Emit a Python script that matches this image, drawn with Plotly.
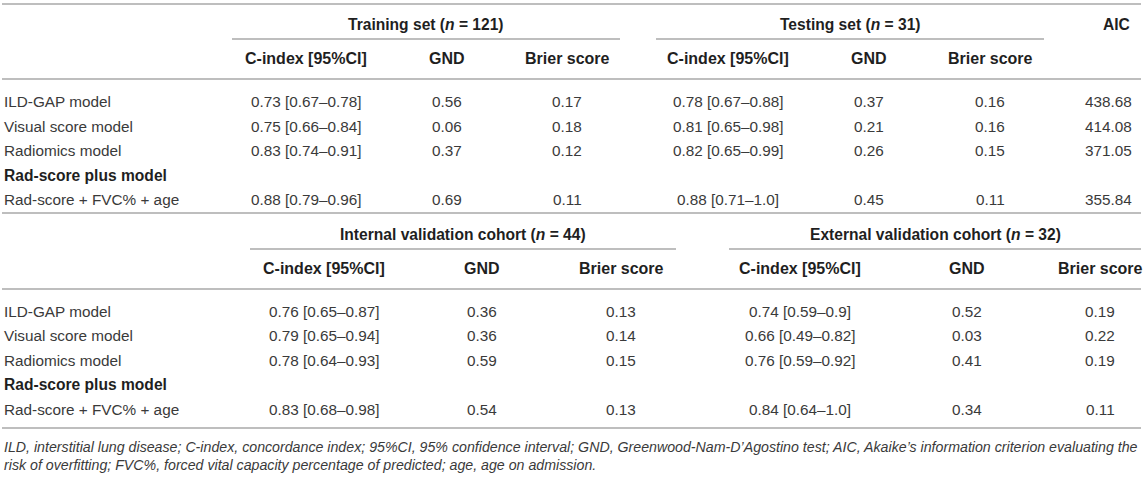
import plotly.graph_objects as go

# row labels
model_names = ["ILD-GAP model", "Visual score model", "Radiomics model"]
plus_group = "Rad-score plus model"
plus_model = "Rad-score + FVC% + age"

# training set (n = 121)
train_cindex = ["0.73 [0.67–0.78]", "0.75 [0.66–0.84]", "0.83 [0.74–0.91]", "0.88 [0.79–0.96]"]
train_gnd = ["0.56", "0.06", "0.37", "0.69"]
train_brier = ["0.17", "0.18", "0.12", "0.11"]

# testing set (n = 31)
test_cindex = ["0.78 [0.67–0.88]", "0.81 [0.65–0.98]", "0.82 [0.65–0.99]", "0.88 [0.71–1.0]"]
test_gnd = ["0.37", "0.21", "0.26", "0.45"]
test_brier = ["0.16", "0.16", "0.15", "0.11"]

aic = ["438.68", "414.08", "371.05", "355.84"]

# internal validation cohort (n = 44)
int_cindex = ["0.76 [0.65–0.87]", "0.79 [0.65–0.94]", "0.78 [0.64–0.93]", "0.83 [0.68–0.98]"]
int_gnd = ["0.36", "0.36", "0.59", "0.54"]
int_brier = ["0.13", "0.14", "0.15", "0.13"]

# external validation cohort (n = 32)
ext_cindex = ["0.74 [0.59–0.9]", "0.66 [0.49–0.82]", "0.76 [0.59–0.92]", "0.84 [0.64–1.0]"]
ext_gnd = ["0.52", "0.03", "0.41", "0.34"]
ext_brier = ["0.19", "0.22", "0.19", "0.11"]

col_heads = ["C-index [95%CI]", "GND", "Brier score"]
footnote = [
    "ILD, interstitial lung disease; C-index, concordance index; 95%CI, 95% confidence interval; "
    "GND, Greenwood-Nam-D’Agostino test; AIC, Akaike’s information criterion evaluating the",
    "risk of overfitting; FVC%, forced vital capacity percentage of predicted; age, age on admission.",
]

# layout (pixel units on hidden axes)
W, H = 1145, 477
FONT = "Liberation Sans, Arial, sans-serif"
TXT = "#3a3a3a"
BOLD = "#1f1f1f"
RULE = "#a8a8a8"
BODY_SIZE = 15.3
HEAD_SIZE = 16
GROUP_SIZE = 15.6
NOTE_SIZE = 14.2

top_rows = [101, 126, 150, 199]
top_group_y = 175
bot_rows = [311, 335, 360, 409]
bot_group_y = 384

fig = go.Figure()
fig.add_trace(go.Scatter(x=[0, W], y=[0, H], mode="markers",
                         marker=dict(opacity=0), hoverinfo="skip", showlegend=False))


def cell(text, x, y, anchor="center", bold=False, size=BODY_SIZE, italic=False):
    if bold:
        text = "<b>" + text + "</b>"
    if italic:
        text = "<i>" + text + "</i>"
    fig.add_annotation(x=x, y=y, xref="x", yref="y", text=text, showarrow=False,
                       xanchor=anchor, yanchor="middle", borderpad=0,
                       font=dict(family=FONT, size=size, color=BOLD if bold else TXT))


def column(values, x, rows, anchor="center"):
    for v, y in zip(values, rows):
        cell(v, x, y, anchor)


def rule(x0, x1, y):
    fig.add_shape(type="line", xref="x", yref="y", x0=x0, x1=x1, y0=y, y1=y,
                  line=dict(color=RULE, width=1.6))


# ---- upper table ----
rule(2, 1141, 4)
cell("Training set (<i>n</i> = 121)", 426, 24, bold=True, size=GROUP_SIZE)
cell("Testing set (<i>n</i> = 31)", 850, 24, bold=True, size=GROUP_SIZE)
cell("AIC", 1131, 24, anchor="right", bold=True, size=GROUP_SIZE)
rule(232, 620, 39)
rule(656, 1044, 39)
for head, x in zip(col_heads, [306, 447, 567]):
    cell(head, x, 58, bold=True, size=HEAD_SIZE)
for head, x in zip(col_heads, [728, 869, 990]):
    cell(head, x, 58, bold=True, size=HEAD_SIZE)
rule(2, 1141, 79)

column(model_names + [plus_model], 3, top_rows, anchor="left")
cell(plus_group, 3, top_group_y, anchor="left", bold=True, size=GROUP_SIZE)
column(train_cindex, 306, top_rows)
column(train_gnd, 447, top_rows)
column(train_brier, 567, top_rows)
column(test_cindex, 728, top_rows)
column(test_gnd, 869, top_rows)
column(test_brier, 990, top_rows)
column(aic, 1133, top_rows, anchor="right")
rule(2, 1141, 213)

# ---- lower table ----
cell("Internal validation cohort (<i>n</i> = 44)", 463, 234, bold=True, size=GROUP_SIZE)
cell("External validation cohort (<i>n</i> = 32)", 935, 234, bold=True, size=GROUP_SIZE)
rule(250, 676, 249)
rule(729, 1141, 249)
for head, x in zip(col_heads, [324, 482, 621]):
    cell(head, x, 268, bold=True, size=HEAD_SIZE)
for head, x in zip(col_heads, [800, 967, 1100]):
    cell(head, x, 268, bold=True, size=HEAD_SIZE)
rule(2, 1141, 289)

column(model_names + [plus_model], 3, bot_rows, anchor="left")
cell(plus_group, 3, bot_group_y, anchor="left", bold=True, size=GROUP_SIZE)
column(int_cindex, 324, bot_rows)
column(int_gnd, 482, bot_rows)
column(int_brier, 621, bot_rows)
column(ext_cindex, 800, bot_rows)
column(ext_gnd, 967, bot_rows)
column(ext_brier, 1100, bot_rows)
rule(2, 1141, 428)

for line, y in zip(footnote, [447, 465]):
    cell(line, 3, y, anchor="left", size=NOTE_SIZE, italic=True)

fig.update_xaxes(range=[0, W], visible=False, fixedrange=True)
fig.update_yaxes(range=[H, 0], visible=False, fixedrange=True)
fig.update_layout(width=W, height=H, margin=dict(l=0, r=0, t=0, b=0),
                  paper_bgcolor="white", plot_bgcolor="white", showlegend=False)

fig.write_html("out.html", config={"displayModeBar": False},
               post_script="document.body.style.margin='0';")
